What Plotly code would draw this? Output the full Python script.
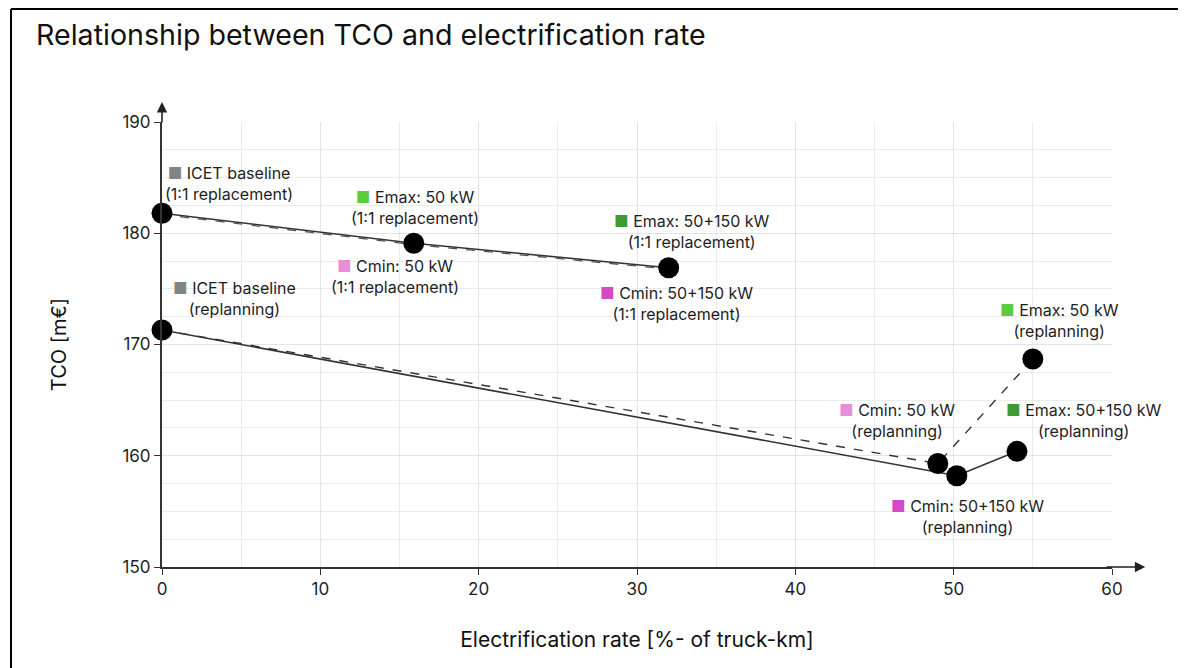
import plotly.graph_objects as go

# ---- data ----
# 1:1 replacement path (ICET baseline -> 50 kW -> 50+150 kW)
x_replace = [0.0, 15.9, 32.0]
y_replace = [181.8, 179.1, 176.9]

# replanning, 50+150 kW path (solid): ICET -> Cmin 50+150 -> Emax 50+150
x_replan_solid = [0.0, 50.2, 54.0]
y_replan_solid = [171.3, 158.2, 160.4]

# replanning, 50 kW path (dashed): ICET -> Cmin 50 -> Emax 50
x_replan_dash = [0.0, 49.0, 55.0]
y_replan_dash = [171.3, 159.3, 168.7]

# all marked points
x_points = [0.0, 15.9, 32.0, 0.0, 49.0, 50.2, 54.0, 55.0]
y_points = [181.8, 179.1, 176.9, 171.3, 159.3, 158.2, 160.4, 168.7]

# label texts
label_names = ["ICET baseline", "Emax: 50 kW", "Cmin: 50 kW", "Emax: 50+150 kW",
               "Cmin: 50+150 kW", "ICET baseline", "Cmin: 50 kW", "Emax: 50 kW",
               "Emax: 50+150 kW", "Cmin: 50+150 kW"]
label_sub = ["(1:1 replacement)", "(1:1 replacement)", "(1:1 replacement)",
             "(1:1 replacement)", "(1:1 replacement)", "(replanning)", "(replanning)",
             "(replanning)", "(replanning)", "(replanning)"]
label_colors = ["#848484", "#5dcc3c", "#e68fd6", "#3f9a2f", "#d548c6",
                "#848484", "#e68fd6", "#5dcc3c", "#3f9a2f", "#d548c6"]
# label anchor positions (data coords)
label_x = [4.25, 16.0, 14.7, 33.5, 32.5, 4.55, 46.4, 56.7, 58.2, 50.9]
label_y = [184.5, 182.3, 176.1, 180.2, 173.7, 174.1, 163.2, 172.2, 163.2, 154.5]

x_ticks = [0, 10, 20, 30, 40, 50, 60]
y_ticks = [150, 160, 170, 180, 190]

title_text = "Relationship between TCO and electrification rate"
x_title = "Electrification rate [%- of truck-km]"
y_title = "TCO [m€]"

FONT = "Inter, Roboto, 'Noto Sans', sans-serif"
LINE = "#333333"

W, H = 1186, 668
ML, MR, MT, MB = 154, 82, 114, 109
PW, PH = W - ML - MR, H - MT - MB

fig = go.Figure()

fig.add_trace(go.Scatter(x=x_replace, y=y_replace, mode="lines",
                         line=dict(color=LINE, width=1.6), hoverinfo="skip"))
fig.add_trace(go.Scatter(x=x_replace, y=[v - 0.12 for v in y_replace], mode="lines",
                         line=dict(color="#555555", width=1.3, dash="dash"), hoverinfo="skip"))
fig.add_trace(go.Scatter(x=x_replan_solid, y=y_replan_solid, mode="lines",
                         line=dict(color=LINE, width=1.6), hoverinfo="skip"))
fig.add_trace(go.Scatter(x=x_replan_dash, y=y_replan_dash, mode="lines",
                         line=dict(color=LINE, width=1.4, dash="dash"), hoverinfo="skip"))
fig.add_trace(go.Scatter(x=x_points, y=y_points, mode="markers",
                         marker=dict(color="#000000", size=21), cliponaxis=False))

annotations = []
for name, sub, col, lx, ly in zip(label_names, label_sub, label_colors, label_x, label_y):
    annotations.append(dict(
        x=lx, y=ly, xref="x", yref="y", showarrow=False, align="center",
        text=f"<span style='color:{col}'>■</span> {name}<br>{sub}",
        font=dict(family=FONT, size=16, color="#1e1e1e"),
    ))

# arrow heads on the axes
annotations.append(dict(x=0, y=1.045, xref="x", yref="paper", ax=0, ay=22,
                        showarrow=True, arrowhead=2, arrowsize=1.3, arrowwidth=1.6,
                        arrowcolor="#222222", text=""))
annotations.append(dict(x=1.035, y=150, xref="paper", yref="y", ax=-40, ay=0,
                        showarrow=True, arrowhead=2, arrowsize=1.3, arrowwidth=1.6,
                        arrowcolor="#222222", text=""))

fig.update_layout(
    annotations=annotations,
    width=W, height=H,
    margin=dict(l=ML, r=MR, t=MT, b=MB),
    paper_bgcolor="white", plot_bgcolor="white",
    showlegend=False,
    font=dict(family=FONT, color="#222222"),
    title=dict(text=title_text, x=(35 - 7) / W, xanchor="left", y=1 - (34 - 7) / H,
               yanchor="middle", font=dict(family=FONT, size=28.6, color="#111111")),
    xaxis=dict(range=[0, 60], tickvals=x_ticks, showgrid=True, gridcolor="#e4e4e4",
               gridwidth=1, minor=dict(dtick=5, showgrid=True, gridcolor="#ececec"),
               zeroline=False, showline=True, linecolor="#333333", linewidth=2,
               ticks="outside", ticklen=6, tickcolor="#333333",
               tickfont=dict(family=FONT, size=17, color="#1e1e1e"),
               title=dict(text=x_title, font=dict(family=FONT, size=21, color="#111111"),
                          standoff=34)),
    yaxis=dict(range=[150, 190], tickvals=y_ticks, showgrid=True, gridcolor="#e4e4e4",
               gridwidth=1, minor=dict(dtick=2.5, showgrid=True, gridcolor="#ececec"),
               zeroline=False, showline=True, linecolor="#333333", linewidth=2,
               ticks="outside", ticklen=6, tickcolor="#333333",
               tickfont=dict(family=FONT, size=17, color="#1e1e1e"),
               title=dict(text=y_title, font=dict(family=FONT, size=20, color="#111111"),
                          standoff=50)),
)

# frame lines (left and top, as in the cropped reference)
fx = (3 - ML) / PW
fy = (H - MB - 1) / PH
fig.add_shape(type="line", xref="paper", yref="paper",
              x0=fx, x1=fx, y0=fy, y1=(H - MB - H - 20) / PH,
              line=dict(color="#000000", width=2))
fig.add_shape(type="line", xref="paper", yref="paper",
              x0=fx, x1=(W + 20 - ML) / PW, y0=fy, y1=fy,
              line=dict(color="#000000", width=2))

fig.write_html("out.html")
